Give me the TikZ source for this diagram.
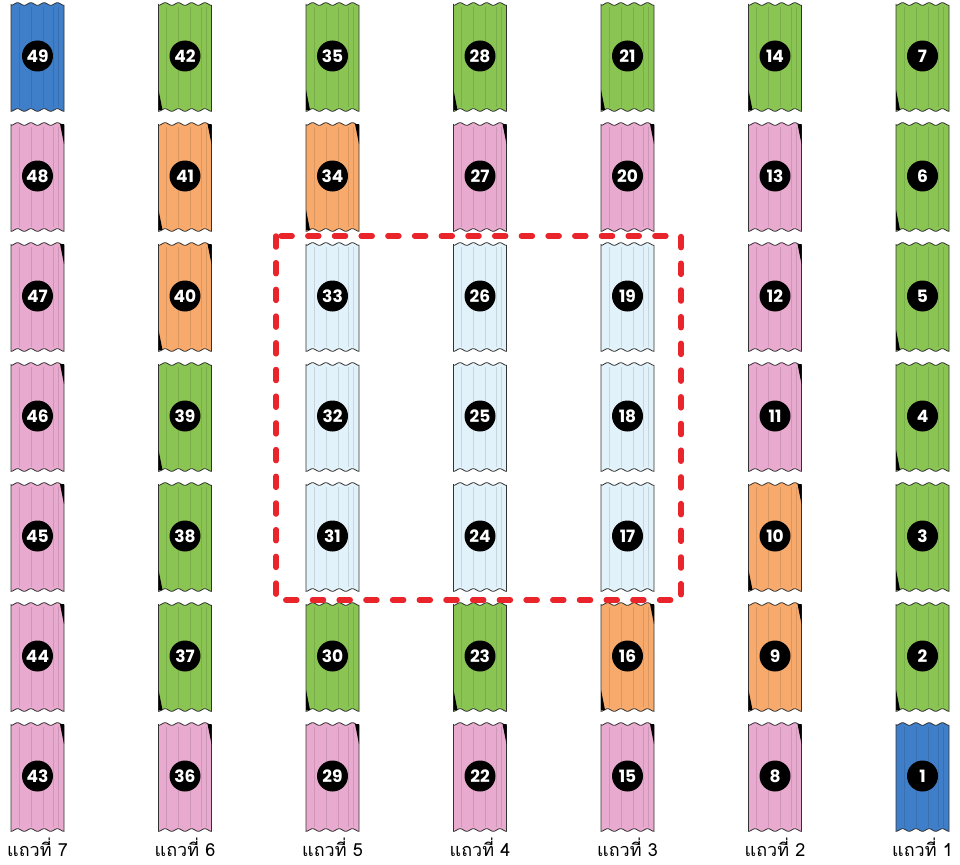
\documentclass[tikz,border=0pt]{standalone}
\usepackage{fontspec}
\newfontfamily\thaifont[Script=Thai]{Loma}
\newfontfamily\numfont{Poppins}
\definecolor{tapeb}{HTML}{3F7EC8}
\definecolor{tapeg}{HTML}{8AC553}
\definecolor{tapep}{HTML}{E9AACF}
\definecolor{tapeo}{HTML}{F8AA6C}
\definecolor{tapel}{HTML}{E2F2FA}
\definecolor{markred}{HTML}{E9252B}
\tikzset{
  tape/.style={draw=black!80, line width=0.8pt},
  numdot/.style={circle, fill=black, minimum size=31pt, inner sep=0pt, text=white,
    font=\numfont\bfseries\fontsize{17}{17}\selectfont},
  rowlabel/.style={anchor=base, font=\thaifont\fontsize{18}{18}\selectfont},
}
\begin{document}
\begin{tikzpicture}[x=1pt, y=-1pt]
    \useasboundingbox (0,0) rectangle (960,864);

    % tapes, numbered column by column from the bottom right
    \foreach \n/\k in {1/b,2/g,3/g,4/g,5/g,6/g,7/g,
                       8/p,9/o,10/o,11/p,12/p,13/p,14/g,
                       15/p,16/o,17/l,18/l,19/l,20/p,21/g,
                       22/p,23/g,24/l,25/l,26/l,27/p,28/g,
                       29/p,30/g,31/l,32/l,33/l,34/o,35/g,
                       36/p,37/g,38/g,39/g,40/o,41/o,42/g,
                       43/p,44/p,45/p,46/p,47/p,48/p,49/b} {
        \pgfmathtruncatemacro\c{div(\n-1,7)}
        \pgfmathtruncatemacro\r{mod(\n-1,7)}
        \pgfmathsetmacro\cx{922.5-147.5*\c}
        \pgfmathsetmacro\cy{777-120*\r}
        \filldraw[tape, fill=tape\k]
            (\cx-26.5,\cy-53)
            -- plot[smooth, variable=\t, domain=0:53, samples=49]
               ({\cx-26.5+\t},{\cy-53+1.3*cos(\t*27.17)})
            -- (\cx+26.5,\cy+53)
            -- plot[smooth, variable=\t, domain=0:53, samples=49]
               ({\cx+26.5-\t},{\cy+53+1.3*cos(\t*27.17)})
            -- cycle;
        \foreach \f in {0.15,0.38,0.6,0.8,0.9}
            \draw[tape\k!88!black, line width=0.45pt]
                ({\cx-26.5+53*\f},\cy-50) -- ++(0,100);
        \if\k p
            \fill (\cx+26.5,\cy-53) -- ++(-4,0) -- (\cx+26.5,\cy-33) -- cycle;
        \fi
        \if\k o
            \fill (\cx+26.5,\cy-53) -- ++(-4,0) -- (\cx+26.5,\cy-33) -- cycle;
            \fill (\cx-26.5,\cy+53) -- ++(4,0) -- (\cx-26.5,\cy+33) -- cycle;
        \fi
        \if\k g
            \fill (\cx-26.5,\cy+53) -- ++(4,0) -- (\cx-26.5,\cy+33) -- cycle;
        \fi
        \node[numdot] (n\n) at (\cx,\cy-1) {\n};
    }

    % selected block
    \coordinate (boxNW) at (276,236);
    \coordinate (boxSE) at (681,600);
    \draw[markred, line width=5.5pt, line cap=round, dash pattern=on 11pt off 15.7pt]
        (boxNW) rectangle (boxSE);

    \foreach \c in {1,...,7}
        \node[rowlabel] (lab\c) at ({922.5-147.5*(\c-1)},856) {แถวที่ \c};
\end{tikzpicture}
\end{document}
